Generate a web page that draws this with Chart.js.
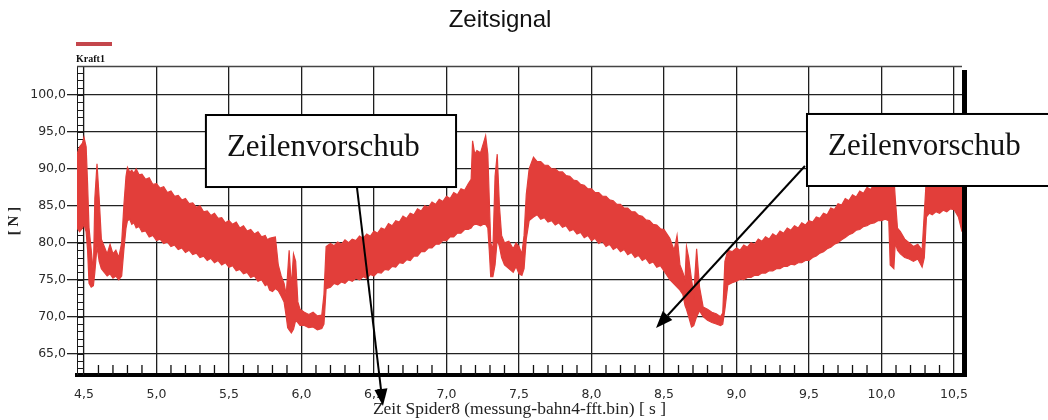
<!DOCTYPE html>
<html>
<head>
<meta charset="utf-8">
<script src="https://cdn.jsdelivr.net/npm/chart.js@4.4.1/dist/chart.umd.min.js"></script>
<style>html,body{margin:0;padding:0;background:#fff}canvas{display:block}</style>
</head>
<body>
<canvas id="c" width="1048" height="420"></canvas>
<script>
// ---- data (time in s, force envelope in N) ----
const timeS = [
  // start
  4.452, 4.47, 4.49, 4.50, 4.515, 4.525, 4.535, 4.55, 4.565, 4.575, 4.59, 4.605, 4.62, 4.64, 4.66, 4.68, 4.70, 4.72, 4.74, 4.76, 4.775, 4.79,
  // falling band
  4.80, 4.815, 4.83, 4.845, 4.86, 4.88, 4.90, 4.925, 4.95, 4.975, 5.00, 5.025, 5.05, 5.075, 5.10, 5.125, 5.15, 5.175, 5.20, 5.225,
  5.25, 5.275, 5.30, 5.325, 5.35, 5.375, 5.40, 5.425, 5.45, 5.475, 5.50, 5.525, 5.55, 5.575, 5.60, 5.625, 5.65, 5.675, 5.70, 5.725,
  5.75, 5.765, 5.78,
  // dip
  5.80, 5.82, 5.84, 5.86, 5.88, 5.895, 5.905, 5.915, 5.93, 5.945, 5.96, 5.975, 5.99, 6.02, 6.05, 6.08, 6.11, 6.14, 6.155, 6.17,
  // rising band
  6.20, 6.225, 6.25, 6.275, 6.30, 6.325, 6.35, 6.375, 6.40, 6.425, 6.45, 6.475, 6.50, 6.525, 6.55, 6.575, 6.60, 6.625, 6.65, 6.675,
  6.70, 6.725, 6.75, 6.775, 6.80, 6.825, 6.85, 6.875, 6.90, 6.925, 6.95, 6.975, 7.00, 7.025, 7.05, 7.075, 7.10, 7.125, 7.15,
  // peak / dip
  7.17, 7.18, 7.195, 7.21, 7.235, 7.255, 7.27, 7.285, 7.295, 7.305, 7.32, 7.335, 7.35, 7.365, 7.38, 7.40, 7.43, 7.46, 7.48, 7.50,
  7.52, 7.535, 7.55, 7.57,
  // falling band
  7.60, 7.625, 7.65, 7.675, 7.70, 7.725, 7.75, 7.775, 7.80, 7.825, 7.85, 7.875, 7.90, 7.925, 7.95, 7.975, 8.00, 8.025, 8.05, 8.075,
  8.10, 8.125, 8.15, 8.175, 8.20, 8.225, 8.25, 8.275, 8.30, 8.325, 8.35, 8.375, 8.40, 8.425, 8.45, 8.475, 8.50, 8.54,
  // dip
  8.57, 8.59, 8.61, 8.63, 8.645, 8.655, 8.67, 8.69, 8.705, 8.725, 8.745, 8.77, 8.80, 8.83, 8.86, 8.89, 8.905, 8.92,
  // rising band
  8.94, 8.97, 9.00, 9.025, 9.05, 9.075, 9.10, 9.125, 9.15, 9.175, 9.20, 9.225, 9.25, 9.275, 9.30, 9.325, 9.35, 9.375, 9.40, 9.425,
  9.45, 9.475, 9.50, 9.525, 9.55, 9.575, 9.60, 9.625, 9.65, 9.675, 9.70, 9.725, 9.75, 9.775, 9.80, 9.825, 9.85, 9.875, 9.90, 9.925,
  9.95, 9.975, 10.00, 10.025, 10.05,
  // dip
  10.06, 10.085, 10.095, 10.11, 10.13, 10.16, 10.19, 10.22, 10.25, 10.28, 10.295,
  // end
  10.31, 10.33, 10.35, 10.375, 10.40, 10.425, 10.45, 10.475, 10.50, 10.53, 10.555
];
const kraftMax = [
  92.0, 93.0, 93.5, 94.3, 93.0, 88.0, 82.0, 79.0, 76.0, 86.0, 90.7, 86.0, 80.5, 79.5, 78.5, 79.8, 78.5, 79.0, 78.0, 80.0, 85.0, 89.0,
  90.2, 89.6, 89.8, 89.4, 90.0, 89.2, 89.3, 88.6, 88.8, 87.9, 88.0, 87.4, 87.6, 86.8, 87.0, 86.3, 86.4, 85.8, 86.0, 85.3,
  85.4, 84.8, 85.0, 84.2, 84.3, 83.7, 84.0, 83.3, 83.4, 82.7, 83.0, 82.5, 82.8, 82.0, 82.3, 81.6, 81.8, 81.2, 81.5, 80.8,
  81.0, 80.4, 80.6,
  80.7, 80.8, 77.0, 75.5, 74.5, 73.0, 76.0, 79.0, 74.0, 78.5, 77.5, 72.0, 71.0, 70.6, 70.3, 70.6, 70.1, 70.2, 73.0, 79.5,
  79.9, 79.6, 80.1, 79.8, 80.4, 80.0, 80.5, 80.3, 80.9, 80.6, 81.2, 80.9, 81.6, 81.3, 82.0, 81.8, 82.6, 82.3, 83.0, 82.8,
  83.6, 83.3, 84.0, 83.8, 84.6, 84.3, 85.0, 84.8, 85.5, 85.2, 85.9, 85.6, 86.3, 86.0, 86.8, 86.5, 87.3, 87.1, 88.0,
  88.6, 93.8, 92.0, 92.5, 92.2, 93.5, 94.5, 92.0, 86.0, 80.0, 79.0, 89.0, 92.0, 85.0, 81.0, 80.0, 80.2, 79.2, 80.0, 79.5,
  78.5, 81.0, 86.5, 90.0,
  91.6, 91.0, 91.0, 90.5, 90.5, 90.0, 90.0, 89.6, 89.6, 89.1, 89.0, 88.5, 88.4, 87.9, 87.8, 87.3, 87.3, 86.8, 86.8, 86.3,
  86.3, 85.8, 85.7, 85.2, 85.2, 84.7, 84.7, 84.2, 84.2, 83.7, 83.6, 83.1, 83.0, 82.5, 82.4, 81.9, 81.8, 80.6,
  79.0, 81.0, 77.0, 76.0, 75.0, 79.5, 78.0, 75.0, 73.0, 79.2, 74.0, 71.3, 71.0, 70.6, 70.4, 70.0, 70.5, 77.5,
  79.0, 78.8, 79.3, 79.0, 79.7, 79.4, 80.0, 79.8, 80.5, 80.2, 80.8, 80.5, 81.2, 80.9, 81.6, 81.3, 82.0, 81.7, 82.3, 82.0,
  82.7, 82.4, 83.0, 82.8, 83.5, 83.3, 84.0, 83.8, 84.7, 84.5, 85.3, 85.1, 86.0, 85.7, 86.5, 86.2, 87.0, 86.7, 87.5, 87.2,
  88.0, 87.7, 88.5, 88.2, 89.0,
  89.0, 89.0, 86.0, 82.0, 81.5, 80.5, 80.0, 79.5, 79.8, 79.0, 84.0,
  89.0, 88.8, 89.3, 89.0, 89.5, 89.2, 89.8, 89.5, 90.0, 89.5, 88.0
];
const kraftMin = [
  82.0, 81.5, 82.0, 82.5, 81.5, 79.0, 74.5, 74.0, 74.2, 76.0, 79.5, 77.5, 76.5, 76.0, 75.5, 75.8, 75.2, 75.5, 75.0, 75.5, 79.0, 82.0,
  83.0, 83.2, 82.5, 82.7, 82.0, 82.2, 81.5, 81.6, 80.8, 81.0, 80.3, 80.5, 79.9, 80.1, 79.5, 79.7, 79.1, 79.3, 78.7, 79.0,
  78.4, 78.6, 78.0, 78.2, 77.6, 77.9, 77.3, 77.6, 77.0, 77.3, 76.7, 76.9, 76.2, 76.4, 75.8, 76.0, 75.3, 75.5, 74.8, 75.0,
  74.2, 74.4, 73.6,
  73.4, 73.8, 73.5, 72.8, 72.0, 70.0, 68.5, 68.2, 67.8, 68.3, 69.5, 69.2, 68.8, 68.8, 68.5, 68.6, 68.2, 68.4, 69.0, 73.8,
  74.0, 74.5, 74.3, 74.7, 74.5, 75.0, 74.8, 75.2, 75.0, 75.4, 75.2, 75.7, 75.5, 76.0, 75.9, 76.4, 76.3, 76.8, 76.7, 77.3,
  77.2, 77.7, 77.6, 78.2, 78.2, 78.8, 78.8, 79.3, 79.3, 79.8, 79.8, 80.3, 80.3, 80.8, 80.8, 81.3, 81.3, 81.8, 81.8,
  82.0, 82.3, 82.5, 82.5, 82.3, 82.5, 82.5, 82.0, 79.0, 75.4, 75.4, 77.0, 80.5, 79.5, 78.0, 77.0, 76.5, 76.0, 76.8, 75.8,
  75.6, 76.5, 80.5, 83.0,
  83.5, 83.8, 83.2, 83.4, 82.8, 83.0, 82.4, 82.7, 82.1, 82.3, 81.6, 81.8, 81.2, 81.4, 80.7, 81.0, 80.3, 80.6, 79.9, 80.2,
  79.5, 79.8, 79.1, 79.4, 78.8, 79.1, 78.4, 78.7, 78.0, 78.3, 77.6, 77.9, 77.2, 77.4, 76.7, 76.9, 76.2, 75.0,
  74.4, 74.0, 73.6, 73.0, 71.5, 71.0, 70.0, 68.6, 68.8, 70.0, 70.8, 70.0, 69.5, 69.2, 69.0, 68.8, 69.0, 71.0,
  74.3, 74.6, 74.8, 75.1, 75.0, 75.3, 75.3, 75.6, 75.6, 75.9, 75.9, 76.2, 76.2, 76.5, 76.5, 76.8, 76.8, 77.1, 77.0, 77.3,
  77.3, 77.6, 77.6, 78.0, 78.2, 78.6, 78.8, 79.2, 79.4, 79.8, 80.0, 80.4, 80.7, 81.1, 81.3, 81.7, 81.8, 82.2, 82.3, 82.6,
  82.7, 83.0, 83.0, 83.2, 83.0,
  77.0, 76.5, 80.0, 79.0, 78.5, 78.0, 77.8, 77.5, 77.8, 76.7, 78.0,
  83.5, 84.0, 83.8, 84.2, 84.0, 84.4, 84.2, 84.6, 84.5, 83.5, 81.5
];
const xTickValues = [4.5, 5.0, 5.5, 6.0, 6.5, 7.0, 7.5, 8.0, 8.5, 9.0, 9.5, 10.0, 10.5];
const yTickValues = [65, 70, 75, 80, 85, 90, 95, 100];
const seriesName = 'Kraft1';
const chartTitle = 'Zeitsignal';
const xTitle = 'Zeit Spider8 (messung-bahn4-fft.bin) [ s ]';
const yTitle = '[ N ]';
const noteTexts = ['Zeilenvorschub', 'Zeilenvorschub'];

// annotation geometry in data units (box corners + arrow start/end)
const notes = [
  {text: noteTexts[0], x0: 5.341, x1: 7.066, y0: 97.30, y1: 87.55, ax0: 6.383, ay0: 87.42, ax1: 6.562, ay1: 57.9},
  {text: noteTexts[1], x0: 9.486, x1: 11.25, y0: 97.44, y1: 87.69, ax0: 9.472, ay0: 90.40, ax1: 8.445, ay1: 68.46}
];

const RED = 'rgb(226,62,58)';
const fmt = v => Number(v).toFixed(1).replace('.', ',');

const decor = {
  id: 'decor',
  beforeDatasetsDraw(chart) {
    const {ctx, chartArea: a, scales: {x, y}} = chart;
    const xl = a.left, xr = x.getPixelForValue(xTickValues[0]);
    ctx.save();
    ctx.strokeStyle = '#1a1a1a';
    ctx.lineWidth = 1;
    ctx.beginPath();
    ctx.moveTo(xl + 0.5, a.top); ctx.lineTo(xl + 0.5, a.bottom);
    ctx.moveTo(xr - 0.5, a.top); ctx.lineTo(xr - 0.5, a.bottom);
    for (let v = Math.ceil(y.min); v <= y.max; v++) {
      const py = Math.round(y.getPixelForValue(v)) + 0.5;
      ctx.moveTo(xl, py); ctx.lineTo(xr, py);
    }
    ctx.stroke();
    ctx.restore();
  },
  afterDraw(chart) {
    const {ctx, chartArea: a, scales: {x, y}} = chart;
    ctx.save();
    // minor ticks on the time axis
    ctx.strokeStyle = '#111';
    ctx.lineWidth = 1.3;
    ctx.beginPath();
    for (let k = Math.ceil(x.min * 10); k <= Math.floor(x.max * 10); k++) {
      if (k % 5 === 0) continue;
      const px = x.getPixelForValue(k / 10);
      ctx.moveTo(px, a.bottom); ctx.lineTo(px, a.bottom - 10);
    }
    ctx.stroke();
    // top frame line
    ctx.strokeStyle = '#444';
    ctx.lineWidth = 1.5;
    ctx.beginPath();
    ctx.moveTo(a.left, a.top - 0.5); ctx.lineTo(a.right, a.top - 0.5);
    ctx.stroke();
    // thick right frame
    ctx.strokeStyle = '#000';
    ctx.lineWidth = 5;
    ctx.beginPath();
    ctx.moveTo(a.right + 2.5, a.top + 3); ctx.lineTo(a.right + 2.5, a.bottom + 2);
    ctx.stroke();
    // legend
    const ds = chart.data.datasets[0];
    ctx.strokeStyle = 'rgb(196,70,76)';
    ctx.lineWidth = 4;
    ctx.beginPath();
    ctx.moveTo(a.left - 1, a.top - 23); ctx.lineTo(a.left + 35, a.top - 23);
    ctx.stroke();
    ctx.fillStyle = '#111';
    ctx.font = 'bold 10px "Liberation Serif"';
    ctx.textBaseline = 'middle';
    ctx.textAlign = 'left';
    ctx.fillText(ds.label, a.left - 1, a.top - 8);
    // annotations
    notes.forEach(n => {
      const L = x.getPixelForValue(n.x0), R = x.getPixelForValue(n.x1);
      const T = y.getPixelForValue(n.y0), B = y.getPixelForValue(n.y1);
      ctx.fillStyle = '#fff';
      ctx.fillRect(L, T, R - L, B - T);
      ctx.strokeStyle = '#000';
      ctx.lineWidth = 2;
      ctx.strokeRect(L, T, R - L, B - T);
      ctx.fillStyle = '#111';
      ctx.font = '31px "Liberation Serif"';
      ctx.textBaseline = 'alphabetic';
      ctx.fillText(n.text, L + 21, T + 41);
      const sx = x.getPixelForValue(n.ax0), sy = y.getPixelForValue(n.ay0);
      const ex = x.getPixelForValue(n.ax1), ey = y.getPixelForValue(n.ay1);
      const ang = Math.atan2(ey - sy, ex - sx);
      const hl = 17, hw = 6.5;
      const bx = ex - hl * Math.cos(ang), by = ey - hl * Math.sin(ang);
      ctx.strokeStyle = '#000';
      ctx.lineWidth = 2;
      ctx.beginPath();
      ctx.moveTo(sx, sy); ctx.lineTo(bx, by);
      ctx.stroke();
      ctx.fillStyle = '#000';
      ctx.beginPath();
      ctx.moveTo(ex, ey);
      ctx.lineTo(bx + hw * Math.sin(ang), by - hw * Math.cos(ang));
      ctx.lineTo(bx - hw * Math.sin(ang), by + hw * Math.cos(ang));
      ctx.closePath();
      ctx.fill();
    });
    ctx.restore();
  }
};

new Chart(document.getElementById('c'), {
  type: 'line',
  data: {
    datasets: [
      {
        label: seriesName,
        data: timeS.map((t, i) => ({x: t, y: kraftMax[i]})),
        borderColor: RED, borderWidth: 1.2, pointRadius: 0, fill: false, tension: 0
      },
      {
        label: seriesName + ' min',
        data: timeS.map((t, i) => ({x: t, y: kraftMin[i]})),
        borderColor: RED, borderWidth: 1.2, pointRadius: 0, fill: '-1', backgroundColor: RED, tension: 0
      }
    ]
  },
  options: {
    responsive: false,
    animation: false,
    layout: {padding: {top: 0, right: 48, bottom: 0, left: 0}},
    plugins: {
      legend: {display: false},
      tooltip: {enabled: false},
      title: {
        display: true, text: chartTitle, color: '#111',
        font: {family: '"Liberation Sans", Arial', size: 24, weight: 'normal'},
        padding: {top: 6, bottom: 32.2}
      }
    },
    scales: {
      x: {
        type: 'linear', min: 4.452, max: 10.555,
        afterBuildTicks: s => { s.ticks = xTickValues.map(v => ({value: v})); },
        afterFit: s => { s.height = 45; },
        grid: {color: '#1e1e1e', lineWidth: 1.3, drawTicks: false},
        border: {display: true, color: '#000', width: 4},
        ticks: {autoSkip: false, maxRotation: 0, padding: 12, color: '#2a2a2a',
          font: {family: '"DejaVu Sans"', size: 12.5}, callback: v => fmt(v)},
        title: {display: true, text: xTitle, color: '#222',
          font: {family: '"Liberation Serif"', size: 17.5}, padding: {top: 0, bottom: 0}}
      },
      y: {
        type: 'linear', min: 62.1, max: 103.8,
        afterBuildTicks: s => { s.ticks = yTickValues.map(v => ({value: v})); },
        afterFit: s => { s.width = 77; },
        grid: {color: '#222', lineWidth: 1.3, tickLength: 10},
        border: {display: false},
        ticks: {padding: 1, color: '#2a2a2a', font: {family: '"DejaVu Sans"', size: 12.5}, callback: v => fmt(v)},
        title: {display: true, text: yTitle, color: '#222',
          font: {family: '"Liberation Serif"', size: 15, weight: 'bold'}, padding: {top: 5.5, bottom: 0}}
      },
      pad: {
        type: 'linear', position: 'right', display: true,
        grid: {display: false}, border: {display: false}, ticks: {display: false},
        afterFit: s => { s.width = 38; }
      }
    }
  },
  plugins: [decor]
});
</script>
</body>
</html>
